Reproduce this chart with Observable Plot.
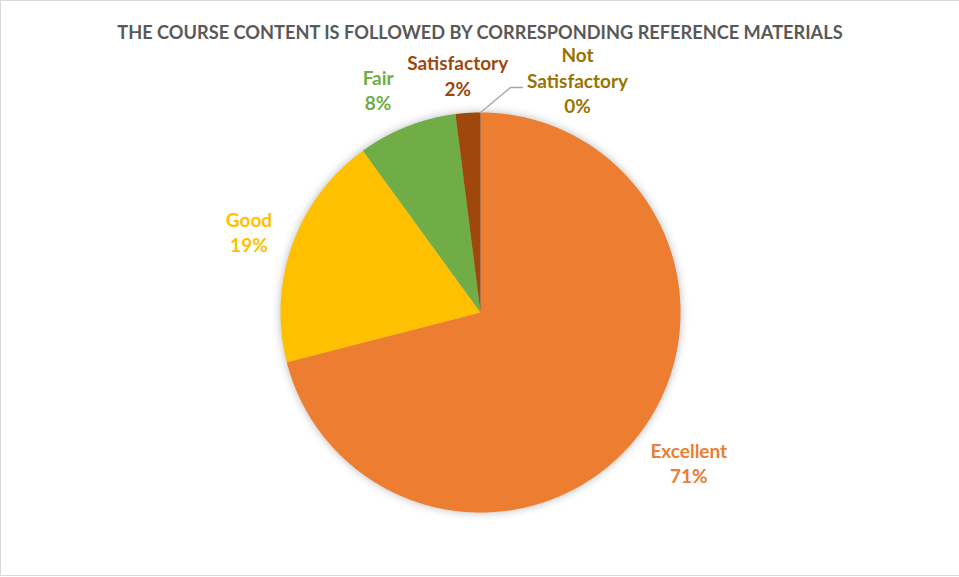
<!DOCTYPE html>
<html>
<head>
<meta charset="utf-8">
<script src="https://cdn.jsdelivr.net/npm/d3@7"></script>
<script src="https://cdn.jsdelivr.net/npm/@observablehq/plot@0.6"></script>
<style>
  html, body { margin: 0; padding: 0; background: #fff; }
  #wrap { position: relative; width: 959px; height: 577px; overflow: hidden; }
  #border { position: absolute; left: 0; top: 0; width: 959px; height: 576px; box-sizing: border-box;
            border-left: 1px solid #d9d9d9; border-top: 1px solid #d9d9d9; border-bottom: 1px solid #d9d9d9;
            pointer-events: none; }
  svg { font-family: Lato, "Open Sans", sans-serif; }
</style>
</head>
<body>
<div id="wrap"><div id="border"></div></div>
<script>
// ---- data ----
const title = "THE COURSE CONTENT IS FOLLOWED BY CORRESPONDING REFERENCE MATERIALS";
const categories = ["Excellent", "Good", "Fair", "Satisfactory", "Not Satisfactory"];
const values = [71, 19, 8, 2, 0];
const colors = ["#ED7D31", "#FFC000", "#70AD47", "#9E480E", "#997300"];

// ---- layout (label placement relative to slice mid-angle) ----
const labelLayout = {
  "Excellent":        {r: 1.28, dx: 6,   dy: -7},
  "Good":             {r: 1.22, dx: -2,  dy: 2},
  "Fair":             {r: 1.20, dx: -14, dy: 0},
  "Satisfactory":     {r: 1.18, dx: -8,  dy: -2},
  "Not Satisfactory": {r: 1.16, dx: 97,  dy: -1}
};

const data = categories.map((c, i) => ({category: c, value: values[i]}));
const arcs = d3.pie().sort(null).value(d => d.value)(data);

// slice outlines
const slicePts = [];
arcs.forEach(a => {
  if (a.endAngle - a.startAngle <= 0) return;
  const cat = a.data.category;
  slicePts.push({category: cat, x: 0, y: 0});
  const n = Math.max(2, Math.ceil((a.endAngle - a.startAngle) / 0.005));
  for (let k = 0; k <= n; k++) {
    const t = a.startAngle + (a.endAngle - a.startAngle) * k / n;
    slicePts.push({category: cat, x: Math.sin(t), y: Math.cos(t)});
  }
});

// labels
const R = 200; // px radius (matches scale range below)
const labels = arcs.map(a => {
  const cat = a.data.category;
  const m = (a.startAngle + a.endAngle) / 2;
  const L = labelLayout[cat];
  const pct = Math.round(a.data.value / d3.sum(values) * 100);
  return {
    category: cat,
    x: Math.sin(m) * L.r + L.dx / R,
    y: Math.cos(m) * L.r - L.dy / R,
    text: cat.replace(" ", "\n") + "\n" + pct + "%",
    mid: m
  };
});

// leader line for the zero-valued slice
const zero = labels.find(l => l.category === "Not Satisfactory");
const m0 = zero.mid;
const ex = Math.sin(m0), ey = Math.cos(m0);
const leader = [
  {x: ex, y: ey},
  {x: ex + 30 / R, y: ey + 25 / R},
  {x: ex + 42 / R, y: ey + 25 / R}
];

const svg = Plot.plot({
  width: 959,
  height: 577,
  margin: 0,
  x: {domain: [-1, 1], range: [280, 680], axis: null},
  y: {domain: [-1, 1], range: [512, 112], axis: null},
  color: {domain: categories, range: colors},
  style: {background: "transparent", overflow: "visible"},
  marks: [
    Plot.line(slicePts, {x: "x", y: "y", z: "category", fill: "category", stroke: "none", curve: "linear-closed"}),
    Plot.line(leader, {x: "x", y: "y", stroke: "#A6A6A6", strokeWidth: 1.3}),
    Plot.text(labels, {x: "x", y: "y", text: "text", fill: "category", fontSize: 19, fontWeight: "bold",
                       lineHeight: 1.32, textAnchor: "middle", lineAnchor: "middle", fontFamily: "Lato"}),
    Plot.text([title], {frameAnchor: "top", dy: 26, text: d => d, fill: "#595959", fontSize: 18.2,
                        fontWeight: "bold", lineAnchor: "top", fontFamily: "Lato"})
  ]
});
const g = svg.querySelector('g[aria-label="line"]');
if (g) g.style.filter = "drop-shadow(0px 0px 4px rgba(0,0,0,0.28))";
document.getElementById("wrap").appendChild(svg);
</script>
</body>
</html>
